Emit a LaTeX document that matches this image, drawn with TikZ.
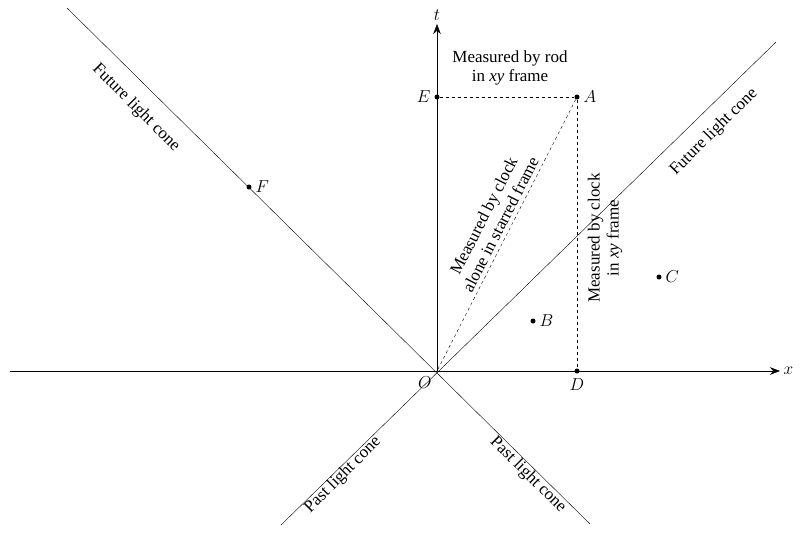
\documentclass[tikz,border=0pt]{standalone}
\usepackage{fontspec}
\setmainfont{Liberation Serif}
\usepackage{tikz}
\usetikzlibrary{arrows.meta}
\begin{document}
\begin{tikzpicture}[x=1pt,y=-1pt,font=\fontsize{17}{19}\selectfont,
  ev/.style={circle,fill,inner sep=0pt,minimum size=5pt},
  lbl/.style={align=center,inner sep=1pt}]
\useasboundingbox (0,0) rectangle (800,554);
% axes
\coordinate (O) at (437,371);
\coordinate (xl) at (10,371);
\coordinate (xr) at (780,371);
\coordinate (tt) at (437,24);
\draw[-{Stealth[length=10pt]}] (xl) -- (xr) node[right] {$x$};
\draw[-{Stealth[length=10pt]}] (O) -- (tt) node[above] {$t$};
% light cones
\coordinate (c1) at (67,8);
\coordinate (c2) at (590,524);
\coordinate (c3) at (776,42);
\coordinate (c4) at (281,525);
\draw (c1) -- (c2);
\draw (c3) -- (c4);
% events
\node[ev] (E) at (437,97) {};
\node[ev] (A) at (577,97) {};
\node[ev] (D) at (577,371) {};
\node[ev] (F) at (249,187) {};
\node[ev] (B) at (533,321) {};
\node[ev] (C) at (659,277) {};
\node[left=3pt] at (E) {$E$};
\node[right=3pt] at (A) {$A$};
\node[below=4pt] at (D) {$D$};
\node[right=3pt] at (F) {$F$};
\node[right=3pt] at (B) {$B$};
\node[right=3pt] at (C) {$C$};
\node[below left=2pt] at (O) {$O$};
\draw[dashed] (E) -- (A);
\draw[dashed] (A) -- (D);
\draw[dashed] (A) -- (O);
% labels
\node[lbl] at (510,68) {Measured by rod\\in \textit{xy} frame};
\node[lbl,rotate=63] at (492,220) {Measured by clock\\alone in starred frame};
\node[lbl,rotate=90] at (605,238) {Measured by clock\\in \textit{xy} frame};
\node[lbl,rotate=-45] at (136,108) {Future light cone};
\node[lbl,rotate=45] at (714,132) {Future light cone};
\node[lbl,rotate=45] at (343,475) {Past light cone};
\node[lbl,rotate=-45] at (528,475) {Past light cone};
\end{tikzpicture}
\end{document}
